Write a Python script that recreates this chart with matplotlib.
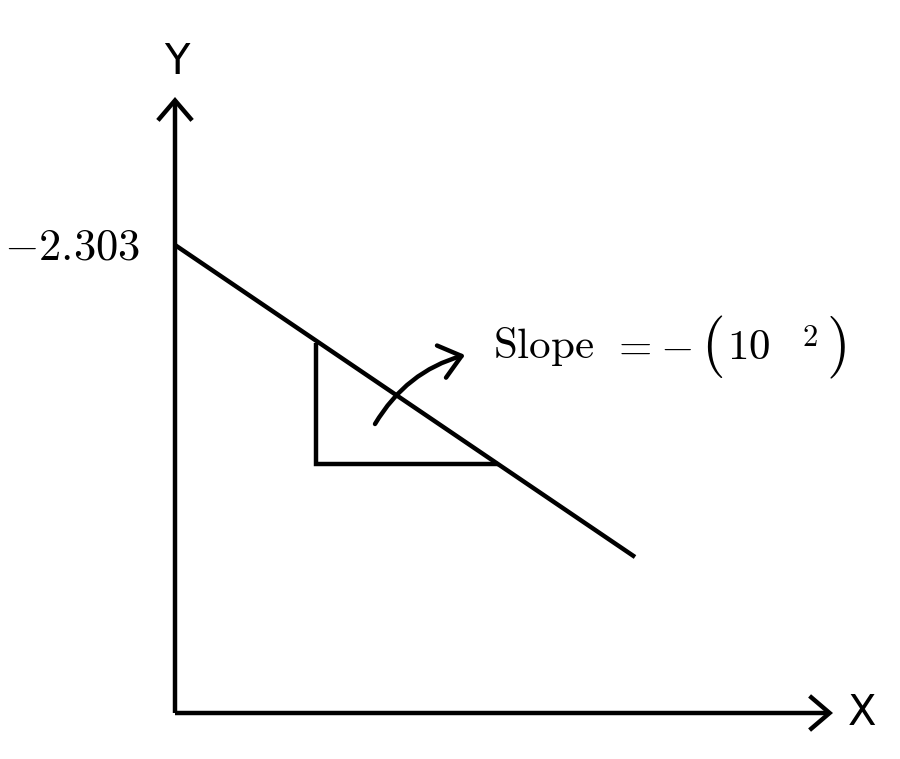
import matplotlib
matplotlib.use("Agg")
import matplotlib.pyplot as plt
from matplotlib.patches import FancyArrowPatch

plt.rcParams['mathtext.fontset'] = 'cm'

# Data (schematic): straight line ln-type plot with negative slope
line_x = [0, 460]
line_y = [468, 156]
# slope triangle
tri_x = [141, 141, 323]
tri_y = [370, 249, 249]
# axes extents
x_axis_end = 658
y_axis_end = 616
intercept_label = r"$-2.303$"
slope_parts = [r"$\mathrm{Slope}$", r"$=$", r"$-$", r"$($", r"$10$", r"$2$", r"$)$"]
x_label = "X"
y_label = "Y"
curve_start = (200, 289)
curve_end = (290, 358)

fig = plt.figure(figsize=(9, 7.59), dpi=100)
ax = fig.add_axes([0, 0, 1, 1])
ax.set_xlim(-175, 725)
ax.set_ylim(-46, 713)
ax.axis('off')

lw = 3.2
# axes with open arrow heads
ax.add_patch(FancyArrowPatch((0, 0), (x_axis_end, 0), arrowstyle='->,head_length=0.48,head_width=0.41',
                             mutation_scale=30, lw=lw, color='black', shrinkA=0, shrinkB=0,
                             capstyle='butt', joinstyle='miter'))
ax.add_patch(FancyArrowPatch((0, 0), (0, y_axis_end), arrowstyle='->,head_length=0.48,head_width=0.41',
                             mutation_scale=30, lw=lw, color='black', shrinkA=0, shrinkB=0,
                             capstyle='butt', joinstyle='miter'))

ax.plot(line_x, line_y, color='black', lw=lw, solid_capstyle='butt')
ax.plot(tri_x, tri_y, color='black', lw=lw, solid_capstyle='butt', solid_joinstyle='miter')

ax.add_patch(FancyArrowPatch(curve_start, curve_end, connectionstyle='arc3,rad=-0.2',
                             arrowstyle='->,head_length=0.5,head_width=0.4',
                             mutation_scale=30, lw=lw, color='black', shrinkA=0, shrinkB=0))

ax.text(-35, 466, intercept_label, fontsize=32, ha='right', va='center')
ax.text(318, 366, slope_parts[0], fontsize=31, ha='left', va='center')
ax.text(456, 366, slope_parts[1], fontsize=31, ha='center', va='center')
ax.text(501, 366, slope_parts[2], fontsize=31, ha='center', va='center')
ax.text(537, 366, slope_parts[3], fontsize=44, ha='center', va='center')
ax.text(552, 366, slope_parts[4], fontsize=31, ha='left', va='center')
ax.text(635, 375, slope_parts[5], fontsize=22, ha='center', va='center')
ax.text(661, 366, slope_parts[6], fontsize=44, ha='center', va='center')
ax.text(687, 0, x_label, fontsize=30, ha='center', va='center', family='DejaVu Sans')
ax.text(2, 651, y_label, fontsize=30, ha='center', va='center', family='DejaVu Sans')

fig.savefig('out.png', dpi=100, facecolor='white')
